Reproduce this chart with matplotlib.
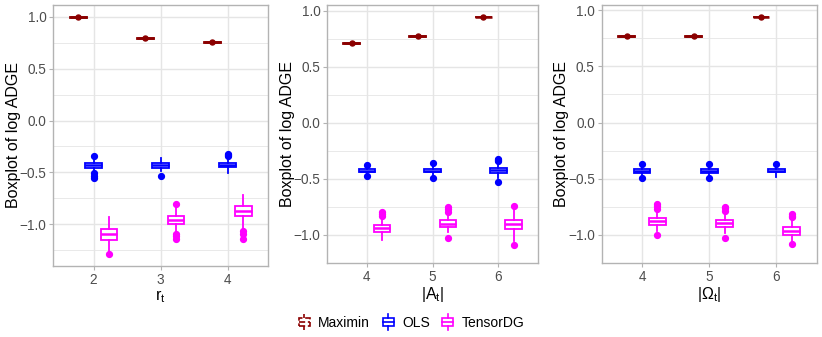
import matplotlib
matplotlib.use("Agg")
import matplotlib.pyplot as plt
from matplotlib.lines import Line2D
from matplotlib.patches import Rectangle
from matplotlib.legend_handler import HandlerBase

plt.rcParams['font.family'] = ['Liberation Sans', 'DejaVu Sans']

methods = ["Maximin", "OLS", "TensorDG"]
colors = {"Maximin": "#8B0000", "OLS": "#0000FF", "TensorDG": "#FF00FF"}

# panel definitions
panel_ticks = [["2", "3", "4"], ["4", "5", "6"], ["4", "5", "6"]]
panel_xlabels = [r"$\mathregular{r_t}$", r"$\mathregular{|A_t|}$", r"$\mathregular{|\Omega_t|}$"]
y_label = "Boxplot of log ADGE"

# ---- values (per panel, per category) ----
# Maximin
maximin_med = [[0.994, 0.792, 0.754], [0.708, 0.769, 0.943], [0.767, 0.767, 0.940]]

# OLS
ols_med = [[-0.433, -0.433, -0.430], [-0.427, -0.430, -0.418], [-0.428, -0.428, -0.428]]
ols_q1 = [[-0.455, -0.455, -0.452], [-0.442, -0.443, -0.447], [-0.446, -0.446, -0.444]]
ols_q3 = [[-0.410, -0.412, -0.408], [-0.413, -0.415, -0.401], [-0.412, -0.412, -0.411]]
ols_lo = [[-0.48, -0.49, -0.51], [-0.46, -0.47, -0.49], [-0.47, -0.47, -0.483]]
ols_hi = [[-0.38, -0.36, -0.38], [-0.39, -0.38, -0.37], [-0.39, -0.39, -0.39]]
ols_fliers = [
    [[-0.346, -0.51, -0.53, -0.55], [-0.53], [-0.32, -0.335, -0.346]],
    [[-0.377, -0.479], [-0.363, -0.494], [-0.32, -0.33, -0.343, -0.528]],
    [[-0.371, -0.497], [-0.365, -0.497], [-0.368]],
]

# TensorDG
tdg_med = [[-1.096, -0.955, -0.872], [-0.942, -0.899, -0.905], [-0.877, -0.897, -0.963]]
tdg_q1 = [[-1.147, -0.997, -0.923], [-0.974, -0.933, -0.951], [-0.911, -0.934, -0.997]]
tdg_q3 = [[-1.045, -0.917, -0.827], [-0.913, -0.867, -0.867], [-0.848, -0.871, -0.934]]
tdg_lo = [[-1.266, -1.074, -1.04], [-1.043, -0.977, -1.05], [-0.966, -0.98, -1.05]]
tdg_hi = [[-0.93, -0.84, -0.715], [-0.852, -0.818, -0.75], [-0.793, -0.80, -0.879]]
tdg_fliers = [
    [[-1.29], [-0.808, -1.096, -1.11, -1.137], [-1.067, -1.09, -1.144]],
    [[-0.794, -0.81, -0.832], [-0.754, -0.77, -0.794, -1.023], [-0.742, -1.093]],
    [[-0.727, -0.745, -0.773, -0.997], [-0.75, -0.765, -0.784, -1.026], [-0.814, -0.83, -0.842, -1.084]],
]

# ---- layout ----
W, H = 822, 337
fig = plt.figure(figsize=(W / 100, H / 100), dpi=100)
axes_px = [(53.3, 268.0, 5.0, 266.0), (327.3, 538.0, 5.0, 263.0), (601.7, 816.7, 5.0, 263.0)]
ylims = [(-1.401, 1.1125), (-1.191, 1.0495), (-1.178, 1.0457)]

offsets = {"Maximin": -0.23, "OLS": 0.0, "TensorDG": 0.23}
bw = 0.25
grid_col = "#E5E5E5"
border_col = "#B3B3B3"

for p in range(3):
    l, r, t, b = axes_px[p]
    ax = fig.add_axes([l / W, 1 - b / H, (r - l) / W, (b - t) / H])
    ax.set_xlim(0.4, 3.6)
    ax.set_ylim(*ylims[p])
    for method in methods:
        stats = []
        pos = []
        for c in range(3):
            if method == "Maximin":
                m = maximin_med[p][c]
                s = dict(med=m, q1=m - 0.003, q3=m + 0.003, whislo=m - 0.004, whishi=m + 0.004, fliers=[m])
            elif method == "OLS":
                s = dict(med=ols_med[p][c], q1=ols_q1[p][c], q3=ols_q3[p][c],
                         whislo=ols_lo[p][c], whishi=ols_hi[p][c], fliers=ols_fliers[p][c])
            else:
                s = dict(med=tdg_med[p][c], q1=tdg_q1[p][c], q3=tdg_q3[p][c],
                         whislo=tdg_lo[p][c], whishi=tdg_hi[p][c], fliers=tdg_fliers[p][c])
            stats.append(s)
            pos.append(c + 1 + offsets[method])
        col = colors[method]
        msize = 3.6 if method == "Maximin" else 4.2
        ax.bxp(stats, positions=pos, widths=bw, patch_artist=True, showcaps=False,
               boxprops=dict(facecolor="white", edgecolor=col, linewidth=1.3),
               medianprops=dict(color=col, linewidth=1.8),
               whiskerprops=dict(color=col, linewidth=1.3),
               flierprops=dict(marker="o", markerfacecolor=col, markeredgecolor=col,
                               markersize=msize, linestyle="none"),
               manage_ticks=False, zorder=3)
    ax.set_xticks([1, 2, 3])
    ax.set_xticklabels(panel_ticks[p])
    ax.set_yticks([-1.0, -0.5, 0.0, 0.5, 1.0])
    ax.set_yticklabels(["\u22121.0", "\u22120.5", "0.0", "0.5", "1.0"])
    ax.set_yticks([-1.25, -0.75, -0.25, 0.25, 0.75], minor=True)
    ax.grid(True, which="major", color=grid_col, linewidth=1.0, zorder=0)
    ax.grid(True, which="minor", axis="y", color=grid_col, linewidth=0.6, zorder=0)
    ax.set_axisbelow(True)
    ax.tick_params(axis="both", which="major", length=3, width=0.8, color=border_col,
                   labelcolor="#4D4D4D", labelsize=9.8, pad=2)
    ax.tick_params(axis="y", which="minor", length=0)
    for sp in ax.spines.values():
        sp.set_color(border_col)
        sp.set_linewidth(1.0)
    ax.set_ylabel(y_label, fontsize=11.5, color="black", labelpad=-1)
    ax.set_xlabel(panel_xlabels[p], fontsize=11.5, color="black", labelpad=1)


class BoxHandler(HandlerBase):
    def create_artists(self, legend, orig_handle, xdescent, ydescent, width, height, fontsize, trans):
        col = orig_handle.get_color()
        ls = orig_handle.get_linestyle()
        x0, x1 = -xdescent + width * 0.1, -xdescent + width * 0.9
        xm = -xdescent + width / 2
        y0 = -ydescent
        y1 = -ydescent + height
        yb0 = y0 + height * 0.25
        yb1 = y0 + height * 0.75
        ym = y0 + height * 0.5
        arts = []
        arts.append(Rectangle((x0, yb0), x1 - x0, yb1 - yb0, facecolor="white", edgecolor=col,
                              linewidth=1.2, linestyle=ls, transform=trans))
        arts.append(Line2D([x0, x1], [ym, ym], color=col, linewidth=1.2, linestyle=ls, transform=trans))
        arts.append(Line2D([xm, xm], [y0, yb0], color=col, linewidth=1.2, linestyle=ls, transform=trans))
        arts.append(Line2D([xm, xm], [yb1, y1], color=col, linewidth=1.2, linestyle=ls, transform=trans))
        return arts


handles = [Line2D([], [], color=colors["Maximin"], linestyle=(0, (2, 1.5))),
           Line2D([], [], color=colors["OLS"], linestyle="-"),
           Line2D([], [], color=colors["TensorDG"], linestyle="-")]
fig.legend(handles, methods, loc="center", bbox_to_anchor=(0.5, 1 - 322 / H), ncol=3,
           frameon=False, fontsize=10, handler_map={Line2D: BoxHandler()},
           handlelength=1.0, handleheight=1.4, handletextpad=0.5, columnspacing=0.8)

fig.savefig("out.png", dpi=100)
